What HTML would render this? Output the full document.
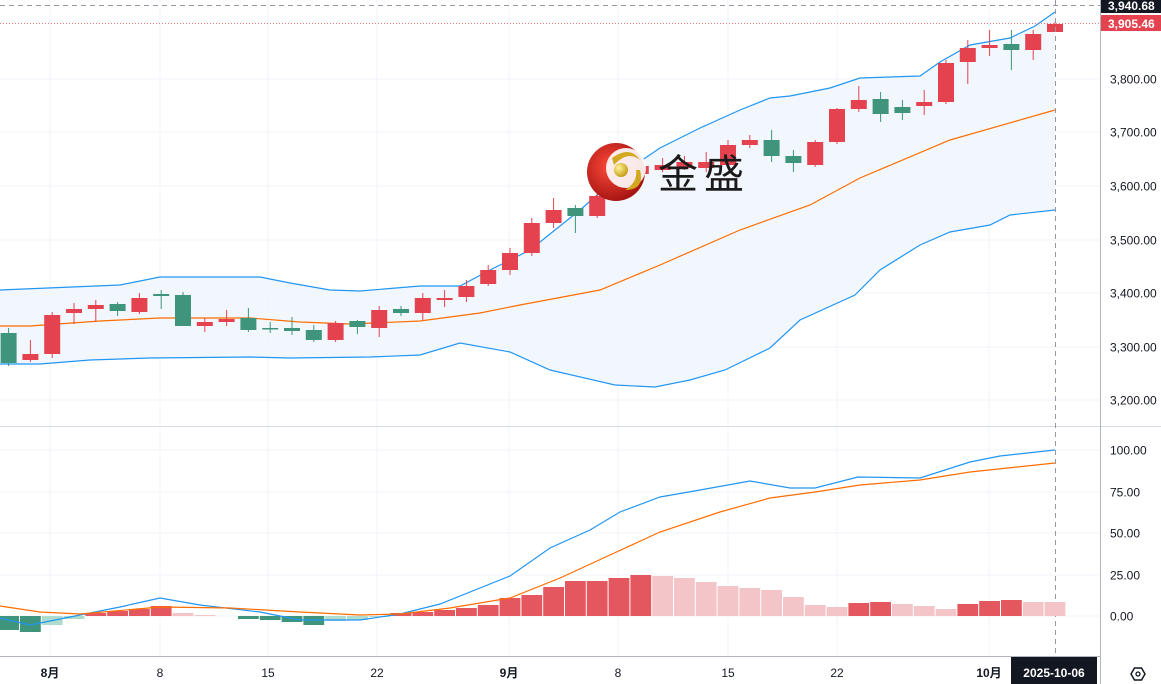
<!DOCTYPE html>
<html><head><meta charset="utf-8"><style>
body{margin:0;background:#fff;overflow:hidden}
svg{display:block;font-family:"Liberation Sans","Noto Sans CJK SC",sans-serif}
</style></head><body>
<svg id="s" width="1161" height="684" viewBox="0 0 1161 684"></svg>
<script>
const s=document.getElementById('s');let h='';
const X=i=>1055-(48-i)*21.8;
// grid
[79,132,186,240,293,347,400].forEach(y=>h+=`<line x1="0" x2="1100" y1="${y}" y2="${y}" stroke="#f0f3fa"/>`);
[450,492,533,575,616].forEach(y=>h+=`<line x1="0" x2="1100" y1="${y}" y2="${y}" stroke="#f0f3fa"/>`);
[50,160,268,377,509,618,728,837,989].forEach(x=>h+=`<line x1="${x}" x2="${x}" y1="0" y2="656" stroke="#f0f3fa"/>`);
const up=[[0,290],[120,285],[160,277],[260,277],[290,283],[330,290],[360,291],[420,286],[460,286],[490,270],[530,250],[580,210],[620,175],[660,148],[700,128],[740,110],[770,98],[790,96],[830,88],[860,78],[920,76],[940,62],[970,45],[1010,38],[1035,26],[1055,12]];
const lo=[[0,364],[40,364],[90,360],[150,358],[250,357],[290,358],[370,357],[420,355],[460,343],[510,352],[550,370],[615,385],[655,387],[690,380],[725,370],[770,348],[800,320],[855,295],[880,270],[920,245],[950,232],[990,225],[1010,215],[1055,210]];
const mid=[[0,326],[30,326],[100,321],[160,318],[250,318],[300,322],[350,324],[420,321],[480,313],[520,305],[600,290],[660,265],[740,230],[810,205],[860,178],[950,140],[1055,110]];
const P=a=>a.map(p=>p.join(',')).join(' ');
h+=`<polygon points="${P(up)} ${P(lo.slice().reverse())}" fill="#eef5fc" opacity="0.8"/>`;
h+=`<polyline points="${P(up)}" fill="none" stroke="#2196f3" stroke-width="1.2"/>`;
h+=`<polyline points="${P(lo)}" fill="none" stroke="#2196f3" stroke-width="1.2"/>`;
h+=`<polyline points="${P(mid)}" fill="none" stroke="#ff6d00" stroke-width="1.2"/>`;
// candles [top,bottom,color,wickTop,wickBot]
const c=[[333,363,'g',328,366],[354,360,'r',340,362],[315,354,'r',312,358],[309,313,'r',303,324],[305,309,'r',300,322],[304,311,'g',302,316],[298,312,'r',293,314],[294,296,'g',290,309],[295,326,'g',292,326],[322,326,'r',318,332],[319,322,'r',310,326],[318,330,'g',308,332],[328,329,'g',322,333],[328,331,'g',317,335],[330,340,'g',325,342],[323,340,'r',321,342],[321,327,'g',320,334],[310,328,'r',306,337],[309,313,'g',306,316],[298,313,'r',293,320],[298,300,'r',290,307],[286,297,'r',280,302],[270,284,'r',265,286],[253,270,'r',248,275],[223,253,'r',218,256],[210,223,'r',198,228],[208,216,'g',205,233],[196,216,'r',190,218],[170,174,'g',146,186],[166,174,'r',160,178],[165,170,'r',158,172],[162,168,'r',156,170],[162,168,'r',152,172],[145,165,'r',140,168],[140,145,'r',135,148],[140,156,'g',130,162],[156,163,'g',150,172],[142,165,'r',140,167],[109,142,'r',108,144],[100,109,'r',86,112],[99,114,'g',92,122],[107,113,'g',100,120],[102,106,'r',90,115],[63,102,'r',60,104],[48,62,'r',40,84],[45,48,'r',30,56],[44,50,'g',30,70],[34,50,'r',30,60],[24,32,'r',22,32]];
c.forEach((d,i)=>{const x=X(i),col=d[2]=='g'?'#3f947c':'#e5424f';
h+=`<line x1="${x}" x2="${x}" y1="${d[3]}" y2="${d[4]}" stroke="${col}"/>`;
h+=`<rect x="${x-8}" y="${d[0]}" width="16" height="${Math.max(1.5,d[1]-d[0])}" fill="${col}"/>`;});
// logo
h+=`<defs><radialGradient id="rg" cx="0.4" cy="0.4" r="0.7"><stop offset="0" stop-color="#ff4a3a"/><stop offset="1" stop-color="#9a0d0d"/></radialGradient><radialGradient id="gg" cx="0.35" cy="0.35" r="0.7"><stop offset="0" stop-color="#fff59a"/><stop offset="1" stop-color="#c49a12"/></radialGradient></defs>`;
h+=`<circle cx="616" cy="172" r="29" fill="url(#rg)"/><circle cx="626" cy="168" r="20" fill="#fff" opacity="0.9"/><path d="M612 158 Q630 145 640 160 Q628 150 614 165Z" fill="#d1a820"/><path d="M640 170 Q645 190 625 190 Q638 182 636 170Z" fill="#d1a820"/><circle cx="621" cy="170" r="7" fill="url(#gg)"/>`;
h+=`<text x="658" y="188" font-size="40" fill="#1a1a1a" font-family="Noto Sans CJK SC,sans-serif" letter-spacing="6">金盛</text>`;
// separators & crosshair
h+=`<line x1="0" x2="1161" y1="426.5" y2="426.5" stroke="#d6dae3"/>`;
h+=`<line x1="1100.5" x2="1100.5" y1="0" y2="684" stroke="#b2b5be"/>`;
h+=`<line x1="0" x2="1100" y1="656.5" y2="656.5" stroke="#b2b5be"/>`;
h+=`<line x1="0" x2="1100" y1="5.5" y2="5.5" stroke="#9598a1" stroke-dasharray="5,4"/>`;
h+=`<line x1="0" x2="1100" y1="23.5" y2="23.5" stroke="#e5424f" stroke-dasharray="1,2" opacity="0.7"/>`;
h+=`<line x1="1055.5" x2="1055.5" y1="0" y2="656" stroke="#9598a1" stroke-dasharray="5,4"/>`;
// histogram
const hb=[[630,'g'],[632,'g'],[625,'lg'],[619,'lg'],[613,'r'],[611,'r'],[609,'r'],[606,'r'],[613,'p'],[615,'p'],[616,'p'],[619,'g'],[620,'g'],[622,'g'],[625,'g'],[621,'lg'],[620,'lg'],[617,'lg'],[613,'r'],[612,'r'],[610,'r'],[608,'r'],[605,'r'],[598,'r'],[595,'r'],[587,'r'],[581,'r'],[581,'r'],[578,'r'],[575,'r'],[576,'p'],[578,'p'],[582,'p'],[586,'p'],[588,'p'],[590,'p'],[597,'p'],[605,'p'],[607,'p'],[603,'r'],[602,'r'],[604,'p'],[606,'p'],[609,'p'],[604,'r'],[601,'r'],[600,'r'],[602,'p'],[602,'p']];
const hc={g:'#3f947c',lg:'#aedccf',r:'#e5575f',p:'#f4c5c8'};
hb.forEach((d,i)=>{const x=X(i),y=d[0];const t=Math.min(y,616),b=Math.max(y,616);
h+=`<rect x="${x-10.4}" y="${t}" width="20.8" height="${b-t}" fill="${hc[d[1]]}"/>`;});
const bl=[[0,618],[30,625],[80,615],[120,607],[160,598],[200,605],[260,612],[300,620],[360,620],[400,614],[440,604],[480,588],[510,576],[550,548],[590,530],[620,512],[660,497],[700,490],[750,481],[790,488],[815,488],[858,477],[920,478],[970,462],[1000,456],[1055,450]];
const or=[[0,606],[40,612],[80,614],[160,607],[230,608],[300,612],[360,615],[400,614],[450,608],[510,598],[560,578],[610,555],[660,532],[720,512],[770,498],[815,492],[860,485],[920,480],[970,472],[1055,463]];
h+=`<polyline points="${P(bl)}" fill="none" stroke="#2196f3" stroke-width="1.2"/>`;
h+=`<polyline points="${P(or)}" fill="none" stroke="#ff6d00" stroke-width="1.2"/>`;
// price labels
[[79,'3,800.00'],[132,'3,700.00'],[186,'3,600.00'],[240,'3,500.00'],[293,'3,400.00'],[347,'3,300.00'],[400,'3,200.00'],[450,'100.00'],[492,'75.00'],[533,'50.00'],[575,'25.00'],[616,'0.00']].forEach(d=>h+=`<text x="1110" y="${d[0]+4.5}" font-size="12" fill="#131722">${d[1]}</text>`);
h+=`<rect x="1101" y="-2" width="60" height="15" fill="#131722"/><text x="1108" y="10" font-size="12" fill="#fff" font-weight="bold">3,940.68</text>`;
h+=`<rect x="1101" y="15" width="60" height="16" fill="#e5424f"/><text x="1108" y="28" font-size="12" fill="#fff" font-weight="bold">3,905.46</text>`;
// time labels
[[50,'8月'],[160,'8'],[268,'15'],[377,'22'],[509,'9月'],[618,'8'],[728,'15'],[837,'22'],[989,'10月']].forEach(d=>h+=`<text x="${d[0]}" y="677" font-size="12" fill="#131722" text-anchor="middle" font-weight="${d[1].includes('月')?'bold':'normal'}">${d[1]}</text>`);
h+=`<rect x="1011" y="657" width="86" height="27" fill="#131722"/><text x="1054" y="677" font-size="12" fill="#fff" text-anchor="middle" font-weight="bold">2025-10-06</text>`;
h+=`<polygon points="1131,674 1134.5,668 1141.5,668 1145,674 1141.5,680 1134.5,680" fill="none" stroke="#131722" stroke-width="1.5"/><circle cx="1138" cy="674" r="2" fill="none" stroke="#131722" stroke-width="1.3"/>`;
s.innerHTML=h;
</script>
</body></html>
